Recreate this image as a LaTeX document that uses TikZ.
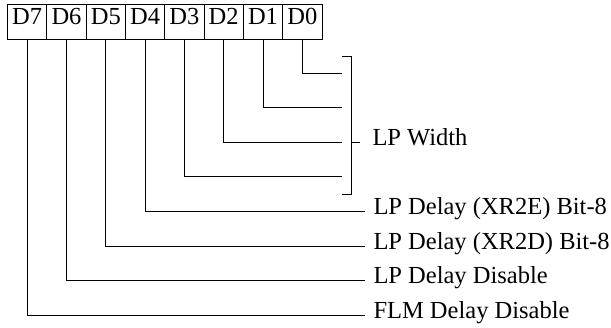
\documentclass[tikz,border=0pt]{standalone}
\usepackage{fontspec}
\setmainfont{Liberation Serif}
\begin{document}
\begin{tikzpicture}[x=1pt,y=-1pt,line width=1pt,font=\fontsize{24.5}{28}\selectfont,
  bitbox/.style={draw,line width=0.9pt,minimum width=39.3pt,minimum height=35pt,
    inner sep=0pt,text height=0.66em,text depth=0pt},
  lbl/.style={anchor=west,inner xsep=8pt,inner ysep=0pt,text height=0.66em,text depth=0pt}]
  \useasboundingbox (0,0) rectangle (611,327);
  % register bits
  \foreach \b [count=\i from 0] in {7,...,0}{%
    \node[bitbox] (D\b) at ({27.2+\i*39.3},21.5) {D\b};
  }
  % D0..D3: LP width field
  \foreach \b in {0,...,3}{%
    \pgfmathsetmacro{\yy}{73+\b*34.6}%
    \coordinate (w\b) at (342,\yy);
    \draw (D\b.south) |- (w\b);
  }
  \coordinate (bt) at (351,56);
  \coordinate (bb) at (351,194);
  \draw (342,56) -- (bt) -- (bb) -- (342,194);
  \node[lbl,inner xsep=12pt] (width) at (360,142.2) {LP Width};
  \draw (351,142.2) -- (width.west);
  % single bits
  \foreach \b/\t in {4/{LP Delay (XR2E) Bit-8},5/{LP Delay (XR2D) Bit-8},6/{LP Delay Disable},7/{FLM Delay Disable}}{%
    \pgfmathsetmacro{\yy}{73+\b*34.6}%
    \node[lbl] (L\b) at (365,\yy) {\t};
    \draw (D\b.south) |- (L\b.west);
  }
\end{tikzpicture}
\end{document}
